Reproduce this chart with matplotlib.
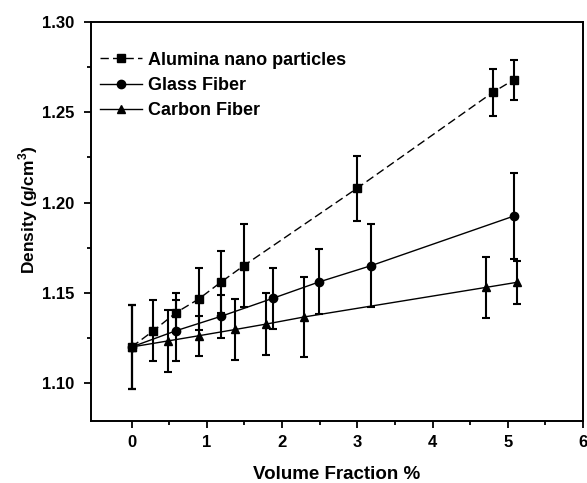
import matplotlib
matplotlib.use("Agg")
import matplotlib.pyplot as plt
from matplotlib.ticker import MultipleLocator, FixedLocator

plt.rcParams['font.family'] = ['Liberation Sans', 'DejaVu Sans']
plt.rcParams['font.weight'] = 'bold'

alumina_x = [0, 0.29, 0.59, 0.89, 1.19, 1.49, 3.0, 4.8, 5.08]
alumina_y = [1.120, 1.129, 1.139, 1.1465, 1.156, 1.165, 1.208, 1.261, 1.268]
alumina_err = [0.023, 0.017, 0.011, 0.017, 0.017, 0.023, 0.018, 0.013, 0.011]

glass_x = [0, 0.59, 1.19, 1.88, 2.49, 3.18, 5.08]
glass_y = [1.120, 1.129, 1.137, 1.147, 1.156, 1.165, 1.1925]
glass_err = [0.023, 0.017, 0.012, 0.017, 0.018, 0.023, 0.024]

carbon_x = [0, 0.49, 0.89, 1.38, 1.79, 2.29, 4.71, 5.12]
carbon_y = [1.120, 1.1234, 1.1262, 1.1297, 1.1327, 1.1366, 1.153, 1.1558]
carbon_err = [0.023, 0.017, 0.011, 0.017, 0.017, 0.022, 0.017, 0.012]

x_minor = [0.5, 1.5, 2.5, 3.5, 4.5, 5.5]

fig = plt.figure(figsize=(5.87, 4.83), dpi=100)
ax = fig.add_axes([91/587, 1-421/483, (583-91)/587, (421-22)/483])

ebkw = dict(fmt='none', ecolor='black', elinewidth=1.5, capsize=3, capthick=1.5)
lkw = dict(color='black', linewidth=1.0, markersize=6)

series = [
    (alumina_x, alumina_y, alumina_err, 's', (0, (6, 3)), 'Alumina nano particles'),
    (glass_x, glass_y, glass_err, 'o', '-', 'Glass Fiber'),
    (carbon_x, carbon_y, carbon_err, '^', '-', 'Carbon Fiber'),
]
for xs, ys, es, mk, ls, lab in series:
    ax.errorbar(xs, ys, yerr=es, **ebkw)
    ax.plot(xs, ys, marker=mk, linestyle=ls, label=lab, **lkw)

ax.set_xlim(-0.54, 6)
ax.set_ylim(1.079, 1.30)
ax.xaxis.set_major_locator(MultipleLocator(1))
ax.xaxis.set_minor_locator(FixedLocator(x_minor))
ax.yaxis.set_minor_locator(MultipleLocator(0.025))
ax.set_yticks([1.10, 1.15, 1.20, 1.25, 1.30])
ax.set_yticklabels(['1.10', '1.15', '1.20', '1.25', '1.30'])
ax.tick_params(which='both', direction='out', width=1.3, labelsize=12)
ax.tick_params(which='major', length=5)
ax.tick_params(which='minor', length=3)
ax.tick_params(axis='x', pad=5)
ax.tick_params(axis='y', pad=7)
for s in ax.spines.values():
    s.set_linewidth(1.4)

ax.set_xlabel('Volume Fraction %', fontsize=13.5, fontweight='bold')
ax.xaxis.set_label_coords(0.5, -0.112)
ax.set_ylabel('Density (g/cm$^\\mathregular{3}$)', fontsize=12.5, fontweight='bold')
ax.yaxis.set_label_coords(-0.104, 0.53)

leg = ax.legend(loc='upper left', frameon=False, fontsize=13, handlelength=2.3,
                borderaxespad=0.0, borderpad=0.5, labelspacing=0.45, handletextpad=0.35,
                bbox_to_anchor=(0.0, 0.948))
for t in leg.get_texts():
    t.set_fontweight('bold')

fig.savefig('out.png', dpi=100)
